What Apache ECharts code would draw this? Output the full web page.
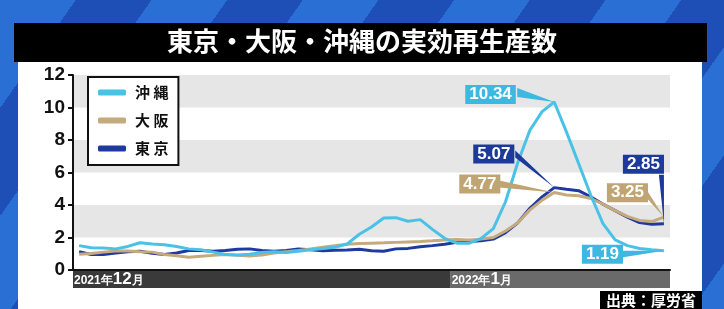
<!DOCTYPE html>
<html><head><meta charset="utf-8">
<script src="https://cdn.jsdelivr.net/npm/echarts@6/dist/echarts.min.js"></script>
<style>
html,body{margin:0;padding:0;width:724px;height:309px;overflow:hidden;}
body{background: repeating-linear-gradient(125deg, #2a70d4 0px, #2a70d4 62px, #1d4fb6 62px, #1d4fb6 124px);}
#titlebar{position:absolute;left:14px;top:23px;width:693px;height:39px;background:#000;}
#panel{position:absolute;left:18px;top:62px;width:684px;height:247px;background:#fff;}
#chart{position:absolute;left:0;top:0;width:724px;height:309px;}
</style></head>
<body><div id="titlebar"></div><div id="panel"></div><div id="chart"></div>
<script>
const categories = ['12/1','12/2','12/3','12/4','12/5','12/6','12/7','12/8','12/9','12/10',
 '12/11','12/12','12/13','12/14','12/15','12/16','12/17','12/18','12/19','12/20',
 '12/21','12/22','12/23','12/24','12/25','12/26','12/27','12/28','12/29','12/30','12/31',
 '1/1','1/2','1/3','1/4','1/5','1/6','1/7','1/8','1/9','1/10','1/11','1/12','1/13','1/14',
 '1/15','1/16','1/17','1/18'];
const monthLabels = ['2021年12月','2022年1月'];
const seriesNames = ['沖縄','大阪','東京'];
const okinawa = [1.50,1.37,1.35,1.30,1.45,1.68,1.60,1.55,1.45,1.30,1.25,1.10,0.95,0.93,0.97,1.08,1.12,1.07,1.15,1.25,
 1.32,1.40,1.60,2.20,2.65,3.20,3.22,3.00,3.10,2.50,1.95,1.65,1.64,1.95,2.55,4.20,6.60,8.60,9.75,10.34,
 8.50,6.55,4.60,2.85,1.85,1.50,1.32,1.24,1.19];
const osaka = [0.97,1.02,1.10,1.17,1.17,1.13,1.10,0.95,0.87,0.78,0.85,0.90,0.95,0.90,0.86,0.92,1.05,1.13,1.20,1.30,
 1.40,1.50,1.58,1.63,1.65,1.67,1.70,1.73,1.76,1.80,1.85,1.88,1.85,1.90,2.00,2.40,2.90,3.70,4.30,4.77,
 4.62,4.57,4.40,4.05,3.65,3.30,3.05,2.98,3.25];
const tokyo = [1.13,0.95,0.95,1.05,1.13,1.15,1.03,0.95,1.05,1.20,1.20,1.15,1.20,1.27,1.30,1.20,1.15,1.20,1.30,1.25,
 1.18,1.22,1.23,1.28,1.18,1.15,1.30,1.33,1.43,1.50,1.58,1.70,1.76,1.80,1.90,2.30,2.90,3.80,4.50,5.07,
 4.97,4.88,4.50,4.05,3.65,3.25,2.92,2.82,2.85];
const yMin = 0, yMax = 12, yStep = 2;

const colors = {'沖縄':'#4ac1e6','大阪':'#c4aa7c','東京':'#1f3a9e'};
const boxColors = {'沖縄':'#3db9e1','大阪':'#c0a574','東京':'#1c3a9c'};
const valuesOf = {'沖縄':okinawa,'大阪':osaka,'東京':tokyo};

const segs = [];
categories.forEach((c,i)=>{
  const m = c.split('/')[0];
  if(!segs.length || segs[segs.length-1].m !== m){ segs.push({m:m,start:i,end:i+1}); }
  else segs[segs.length-1].end = i+1;
});
const segColors = ['#3a3a3a','#6a6a6a'];
const markAreaData = segs.map((s,k)=>{
  const mm = monthLabels[k].match(/^(\d+年)(\d+)(月)$/);
  return [{xAxis:s.start, itemStyle:{color:segColors[k%2]},
    label:{show:true, position:'insideLeft', distance:1,
      formatter:'{s|'+mm[1]+'}{b|'+mm[2]+'}{s|'+mm[3]+'}',
      rich:{s:{color:'#fff',fontSize:12,fontWeight:'bold',fontFamily:'Liberation Sans',verticalAlign:'bottom',padding:[0,0,1,0]},
            b:{color:'#fff',fontSize:17,fontWeight:'bold',fontFamily:'Liberation Sans',verticalAlign:'bottom'}}}},
    {xAxis:s.end}];
});

const chart = echarts.init(document.getElementById('chart'), null, {renderer:'canvas'});
const drawOrder = ['東京','大阪','沖縄'];
const option = {
  backgroundColor:'transparent',
  animation:false,
  title:[
    {text:'東京・大阪・沖縄の実効再生産数', left:'center', top:28, padding:0,
     textStyle:{color:'#fff',fontSize:26,fontWeight:'bold',fontFamily:'Noto Sans CJK JP'}},
    {text:'出典：厚労省', right:22, bottom:0, padding:[1,6,1,6], backgroundColor:'#000',
     textStyle:{color:'#fff',fontSize:15,fontWeight:'bold',fontFamily:'Noto Sans CJK JP',lineHeight:16}}
  ],
  legend:{
    data:seriesNames, orient:'vertical', left:88, top:77, padding:[8,10,9,10], itemGap:13,
    itemWidth:28, itemHeight:6, icon:'roundRect', borderColor:'#111', borderWidth:2, backgroundColor:'#fff',
    formatter:n=>n.split('').join(' '),
    textStyle:{fontSize:15,fontWeight:'bold',color:'#111',fontFamily:'Noto Sans CJK JP',padding:[0,0,0,4]}
  },
  grid:[
    {left:73, right:54, top:75, bottom:39},
    {left:73, right:54, top:271, height:17}
  ],
  xAxis:[
    {type:'category', data:categories, boundaryGap:true, gridIndex:0,
     axisLine:{show:true,lineStyle:{color:'#111',width:2}}, axisTick:{show:false}, axisLabel:{show:false}},
    {type:'value', gridIndex:1, min:0, max:categories.length, show:false}
  ],
  yAxis:[
    {type:'value', gridIndex:0, min:yMin, max:yMax, interval:yStep,
     axisLine:{show:true,lineStyle:{color:'#111',width:2}},
     axisTick:{show:true,length:5,lineStyle:{color:'#111',width:2}},
     axisLabel:{fontSize:19,fontWeight:'bold',color:'#111',fontFamily:'Liberation Sans',margin:8},
     splitLine:{show:false},
     splitArea:{show:true,areaStyle:{color:['rgba(0,0,0,0)','#e6e6e6']}}},
    {type:'value', gridIndex:1, min:0, max:1, show:false}
  ],
  series: drawOrder.map(n=>({
    name:n, type:'line', data:valuesOf[n], symbol:'none', smooth:false,
    lineStyle:{width:3,color:colors[n]}, itemStyle:{color:colors[n]}, z:2
  })).concat([{
    name:'months', type:'line', xAxisIndex:1, yAxisIndex:1, data:[], symbol:'none',
    silent:true, markArea:{silent:true, data:markAreaData}
  }])
};
chart.setOption(option);

const callouts = [
  {s:'沖縄', pick:'max',  box:[-89,-17], A:[-37,-14], B:[-37,-5]},
  {s:'東京', pick:'max',  box:[-81,-43], A:[-39,-37], B:[-39,-30]},
  {s:'大阪', pick:'max',  box:[-95,-18], A:[-55,-12], B:[-55,-5]},
  {s:'東京', pick:'last', box:[-41,-69], A:[-5,-49], B:[0,-49]},
  {s:'大阪', pick:'last', box:[-57,-34], A:[-17,-27], B:[-17,-19]},
  {s:'沖縄', pick:'last', box:[-82,-6],  A:[-44,0], B:[-44,7]}
];
const graphics = [];
callouts.forEach((c,k)=>{
  const vals = valuesOf[c.s];
  let idx = c.pick==='last' ? vals.length-1 : vals.indexOf(Math.max.apply(null, vals));
  const p = chart.convertToPixel({xAxisIndex:0,yAxisIndex:0},[idx, vals[idx]]);
  graphics.push({type:'polygon', z:10, shape:{points:[[p[0]+c.A[0],p[1]+c.A[1]],[p[0]+c.B[0],p[1]+c.B[1]],[p[0],p[1]]]},
    style:{fill:boxColors[c.s]}});
  graphics.push({type:'text', z:11, x:p[0]+c.box[0], y:p[1]+c.box[1],
    style:{text:vals[idx].toFixed(2), fill:'#fff', font:'bold 17px "Liberation Sans"',
      backgroundColor:boxColors[c.s], padding:[1,4,1,4], textAlign:'left', textVerticalAlign:'top', lineHeight:17}});
});
chart.setOption({graphic:graphics});
</script>
</body></html>
